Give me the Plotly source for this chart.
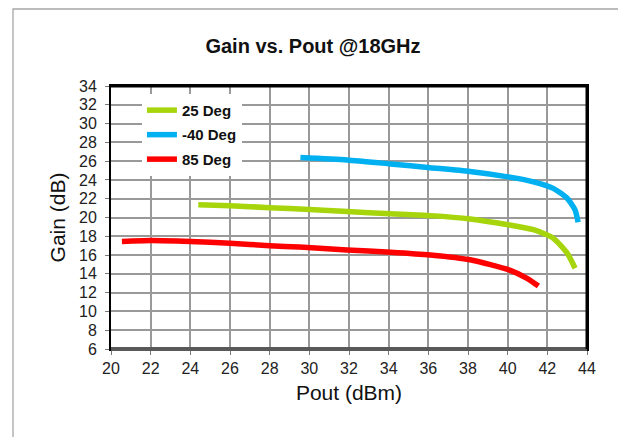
import plotly.graph_objects as go

# Data
x_25 = [24.4, 26.0, 28.0, 30.0, 31.9, 34.1, 36.1, 38.1, 40.1, 41.3, 42.3, 43.0, 43.4]
y_25 = [21.35, 21.25, 21.05, 20.85, 20.63, 20.4, 20.2, 19.85, 19.2, 18.7, 17.8, 16.2, 14.6]

x_m40 = [29.55, 31.9, 34.1, 36.1, 38.1, 40.1, 41.3, 42.3, 43.0, 43.4, 43.55]
y_m40 = [26.4, 26.13, 25.7, 25.3, 24.9, 24.3, 23.8, 23.1, 22.05, 20.8, 19.5]

x_85 = [20.55, 22.0, 24.0, 26.0, 28.0, 29.5, 31.9, 34.1, 36.1, 38.1, 40.1, 41.0, 41.55]
y_85 = [17.45, 17.54, 17.44, 17.26, 17.0, 16.85, 16.55, 16.3, 16.0, 15.5, 14.4, 13.5, 12.7]

series_names = ["25 Deg", "-40 Deg", "85 Deg"]
series_colors = ["#A5D50A", "#00B0F0", "#FF0000"]

x_ticks = list(range(20, 45, 2))
y_ticks = list(range(6, 35, 2))

FONT = "Liberation Sans, Arial, sans-serif"

fig = go.Figure()
for i, (xs, ys, name, col) in enumerate(zip([x_25, x_m40, x_85], [y_25, y_m40, y_85],
                                           series_names, series_colors)):
    fig.add_trace(go.Scatter(x=xs, y=ys, mode="lines", name=name, legendgroup=f"g{i}",
                             line=dict(color=col, width=5.5, shape="spline", smoothing=0.6)))

# page has an 8px body margin; figure sized so that it fits the 626x437 window
OFF = 8
W, H = 618, 429
L = 111 - OFF
T = 86 - OFF
R = W + OFF - 587
B = H + OFF - 349
PW = W - L - R
PH = H - T - B

fig.update_layout(
    width=W, height=H,
    margin=dict(l=L, r=R, t=T, b=B),
    paper_bgcolor="white", plot_bgcolor="white",
    font=dict(family=FONT, color="#111111"),
    title=dict(text="<b>Gain vs. Pout @18GHz</b>", x=(313 - OFF) / W, xanchor="center",
               y=1 - (46 - OFF) / H, yanchor="middle", font=dict(size=20, color="#111111")),
    showlegend=True,
    legend=dict(x=0.065, y=0.97, xanchor="left", yanchor="top",
                bgcolor="white", borderwidth=0,
                font=dict(size=15, color="#111111", family=FONT, weight="bold"),
                tracegroupgap=2),
    xaxis=dict(range=[20, 44], tickvals=x_ticks, showgrid=True, gridcolor="#999999", gridwidth=1.5,
               showline=True, linecolor="black", linewidth=2, mirror=True,
               ticks="outside", ticklen=4, tickcolor="#777777",
               tickfont=dict(size=16, color="#222222"),
               title=dict(text="Pout (dBm)", font=dict(size=21, color="#111111"), standoff=9),
               zeroline=False),
    yaxis=dict(range=[6, 34], tickvals=y_ticks, showgrid=True, gridcolor="#999999", gridwidth=1.5,
               showline=True, linecolor="black", linewidth=2, mirror=True,
               ticks="outside", ticklen=4, tickcolor="#777777", ticklabelstandoff=5,
               tickfont=dict(size=16, color="#222222"),
               title=dict(text="Gain (dB)", font=dict(size=21, color="#111111"), standoff=8),
               zeroline=False),
    shapes=[
        # outer chart frame
        dict(type="rect", xref="paper", yref="paper",
             x0=-(L - (13 - OFF)) / PW, x1=(624 - OFF - L) / PW,
             y0=-(B + 20) / PH, y1=1 + (T - (9 - OFF)) / PH,
             line=dict(color="#A6A6A6", width=1.3), layer="below"),
        # thick bottom axis line
        dict(type="line", xref="paper", yref="paper", x0=0, x1=1, y0=0, y1=0,
             line=dict(color="#595959", width=4)),
        # thick right and top borders
        dict(type="line", xref="paper", yref="paper", x0=1, x1=1, y0=0, y1=1,
             line=dict(color="black", width=3)),
        dict(type="line", xref="paper", yref="paper", x0=0, x1=1, y0=1, y1=1,
             line=dict(color="black", width=3)),
    ],
)

fig.write_html("out.html")
